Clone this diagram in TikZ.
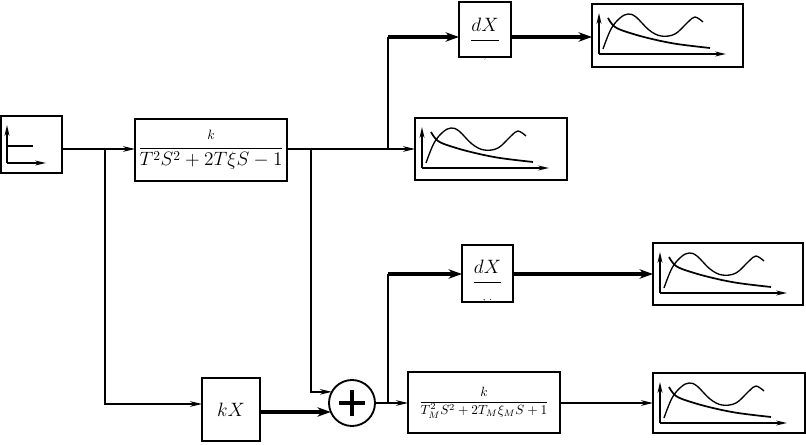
\RequirePackage{fix-cm}
\documentclass[tikz,border=0pt]{standalone}
\usepackage{amsmath}
\usetikzlibrary{arrows.meta}
\tikzset{
  blk/.style={draw,line width=1.4pt,inner sep=0pt,outer sep=0pt},
  arr/.style={-{Stealth[length=9pt,width=4.2pt,inset=2.8pt]}},
  tarr/.style={-{Stealth[length=10pt,width=7pt,inset=3pt]}},
  conn/.style={line width=1.2pt},
  thk/.style={line width=2.3pt},
  axis/.style={line width=1.4pt,-{Stealth[length=8pt,width=3.6pt,inset=2.4pt]}},
  crv/.style={line width=1pt},
  big/.style={font=\fontsize{14.5}{17}\selectfont},
}
\newcommand{\graphicon}[1]{%
  \begin{scope}[shift={(#1.north west)}]
    \draw[axis] (7,50) -- (7,9);
    \draw[axis] (7,50) -- (134,50);
    \draw[crv] plot[smooth,tension=0.6] coordinates {(11,45) (19,25) (28,14) (36,10) (44,13) (57,26) (69,32) (83,30) (96,18) (103,13) (111,18)};
    \draw[crv,line width=1.3pt] plot[smooth,tension=0.6] coordinates {(16,14) (23,23) (38,29) (60,35) (85,40) (118,44)};
  \end{scope}}
\begin{document}
\begin{tikzpicture}[x=0.75pt,y=-0.75pt]
\useasboundingbox (0,0) rectangle (806,445);

% blocks
\node[blk,minimum width=45.75pt,minimum height=42.75pt] (in) at (31.5,144.5) {};
\node[blk,big,minimum width=114pt,minimum height=46.5pt] (tf1) at (211,150) {$\dfrac{\scriptstyle k}{T^2S^2+2T\xi S-1}$};
\node[blk,minimum width=114pt,minimum height=46.5pt] (gr2) at (491,149) {};
\node[blk,big,minimum width=39pt,minimum height=41.25pt] (dx1) at (485,29.5) {\raisebox{-11.5pt}[0pt][0pt]{$\dfrac{dX}{\scriptscriptstyle ,}$}};
\node[blk,minimum width=113.25pt,minimum height=47.25pt] (gr1) at (667.5,35.5) {};
\node[blk,big,minimum width=38.25pt,minimum height=42.75pt] (dx2) at (487.5,273.5) {\raisebox{-10pt}[0pt][0pt]{$\dfrac{dX}{\scriptscriptstyle ,\;.}$}};
\node[blk,minimum width=112.5pt,minimum height=46.5pt] (gr3) at (728,274) {};
\node[blk,big,minimum width=43.5pt,minimum height=47.25pt] (kx) at (231,409.5) {$kX$};
\node[draw,circle,line width=1.4pt,minimum size=34.5pt,inner sep=0pt,outer sep=0pt] (sum) at (352,403) {};
\node[blk,font=\fontsize{10}{12}\selectfont,minimum width=114pt,minimum height=45.75pt] (tf2) at (484,402.5) {$\dfrac{k}{T_M^2S^2+2T_M\xi_M S+1}$};
\node[blk,minimum width=114pt,minimum height=45pt] (gr4) at (729,403) {};

% plus sign in summing junction
\draw[line width=2.3pt] ([xshift=-9.5pt]sum.center) -- ([xshift=9.5pt]sum.center);
\draw[line width=2.3pt] ([yshift=-9.5pt]sum.center) -- ([yshift=9.5pt]sum.center);

% icons
\begin{scope}[shift={(in.north west)}]
  \draw[axis] (6,47) -- (6,9);
  \draw[line width=1.4pt] (6,30) -- (32,30);
  \draw[axis] (6,47) -- (45,47);
\end{scope}
\graphicon{gr1}
\graphicon{gr2}
\graphicon{gr3}
\graphicon{gr4}

% junctions
\coordinate (j0) at (105,149);
\coordinate (j0b) at (105,404);
\coordinate (j1) at (311,149);
\coordinate (j2) at (388,149);
\coordinate (j3) at (388,37);
\coordinate (j4) at (388,403);
\coordinate (j5) at (388,274);

% connectors
\draw[conn] (in.east|-j0) -- (j0);
\draw[conn,arr] (j0) -- (tf1.west|-j0);
\draw[conn,arr] (j0) -- (j0b) -- (kx.west|-j0b);
\draw[conn] (tf1.east|-j1) -- (j2);
\draw[conn,arr] (j2) -- (gr2.west|-j2);
\draw[conn,arr] (j1) |- (sum.151);
\draw[conn] (j2) -- (j3);
\draw[thk,tarr] (j3) -- (dx1.west|-j3);
\draw[thk,tarr] (dx1.east|-j3) -- (gr1.west|-j3);
\draw[thk,tarr] (kx.east|-sum.203) -- (sum.203);
\draw[conn] (sum.east) -- (j4);
\draw[conn,arr] (j4) -- (tf2.west|-j4);
\draw[conn] (j4) -- (j5);
\draw[thk,tarr] (j5) -- (dx2.west|-j5);
\draw[thk,tarr] (dx2.east|-j5) -- (gr3.west|-j5);
\draw[conn,arr] (tf2.east|-j4) -- (gr4.west|-j4);
\end{tikzpicture}
\end{document}
